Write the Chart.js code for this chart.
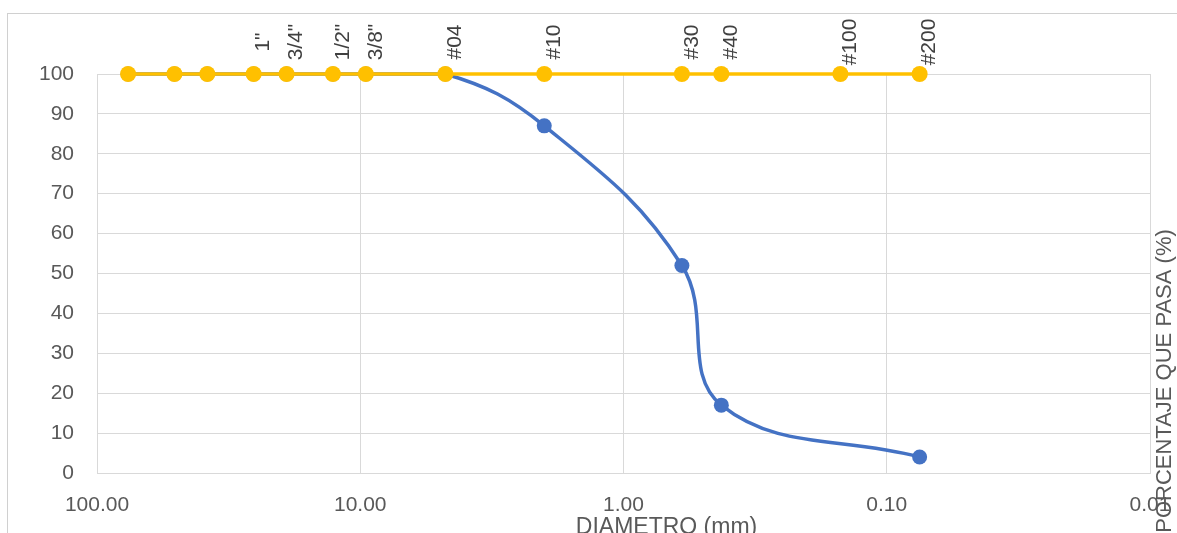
<!DOCTYPE html>
<html>
<head>
<meta charset="utf-8">
<script src="https://cdn.jsdelivr.net/npm/chart.js@4.4.1/dist/chart.umd.min.js"></script>
<style>
  html, body { margin: 0; padding: 0; background: #ffffff; overflow: hidden; }
  #wrap { width: 1177px; height: 533px; }
</style>
</head>
<body>
<div id="wrap"><canvas id="curva" width="1177" height="533"></canvas></div>
<script>
// Serie de tamices (abertura en mm) y su rótulo
const sieveLabels    = ['', '', '', '1"', '3/4"', '1/2"', '3/8"', '#04', '#10', '#30', '#40', '#100', '#200'];
const sieveDiameters = [76.2, 50.8, 38.1, 25.4, 19.05, 12.7, 9.525, 4.75, 2.00, 0.600, 0.425, 0.150, 0.075];
const sieveLevel     = [100, 100, 100, 100, 100, 100, 100, 100, 100, 100, 100, 100, 100];

// Granulometría de la muestra: diámetro (mm) y porcentaje que pasa
const sampleDiameters = [76.2, 50.8, 38.1, 25.4, 19.05, 12.7, 9.525, 4.75, 2.00, 0.600, 0.425, 0.075];
const samplePassing   = [100, 100, 100, 100, 100, 100, 100, 100, 87, 52, 17, 4];

// Marcas de los ejes
const xTickValues = [100, 10, 1, 0.1, 0.01];
const xTickLabels = ['100.00', '10.00', '1.00', '0.10', '0.01'];
const yTickStep = 10;

const xTitle = 'DIAMETRO (mm)';
const yTitle = 'PORCENTAJE QUE PASA (%)';

const FONT = '"Liberation Sans", Arial, sans-serif';
const GRID = '#d9d9d9';
const TEXT = '#595959';

Chart.defaults.font.family = FONT;

const decorations = {
  id: 'decorations',
  beforeDraw(chart) {
    const ctx = chart.ctx;
    ctx.save();
    ctx.fillStyle = '#ffffff';
    ctx.fillRect(0, 0, chart.width, chart.height);
    ctx.strokeStyle = '#d0d0d0';
    ctx.lineWidth = 1;
    ctx.strokeRect(7.5, 13.5, chart.width + 20, chart.height + 20);
    ctx.restore();
  },
  afterDatasetsDraw(chart) {
    const ctx = chart.ctx;
    const meta = chart.getDatasetMeta(0);
    ctx.save();
    ctx.fillStyle = '#404040';
    ctx.font = '21px ' + FONT;
    ctx.textAlign = 'center';
    ctx.textBaseline = 'middle';
    meta.data.forEach((pt, i) => {
      const txt = sieveLabels[i];
      if (!txt) return;
      ctx.save();
      ctx.translate(pt.x + 10, pt.y - 32);
      ctx.rotate(-Math.PI / 2);
      ctx.fillText(txt, 0, 0);
      ctx.restore();
    });
    ctx.restore();
  },
  afterDraw(chart) {
    const ctx = chart.ctx;
    const area = chart.chartArea;
    ctx.save();
    ctx.fillStyle = TEXT;
    // título del eje X
    ctx.font = '23px ' + FONT;
    ctx.textAlign = 'center';
    ctx.textBaseline = 'alphabetic';
    ctx.fillText(xTitle, (area.left + area.right) / 2 + 43, chart.height + 1);
    // título del eje Y, a la derecha
    ctx.font = '22px ' + FONT;
    ctx.translate(area.right + 15, area.bottom - 92);
    ctx.rotate(-Math.PI / 2);
    ctx.textBaseline = 'middle';
    ctx.fillText(yTitle, 0, 0);
    ctx.restore();
  }
};

new Chart(document.getElementById('curva'), {
  type: 'scatter',
  data: {
    datasets: [
      {
        label: 'Tamices',
        data: sieveDiameters.map((d, i) => ({ x: d, y: sieveLevel[i] })),
        showLine: true,
        borderColor: '#FFC000',
        backgroundColor: '#FFC000',
        borderWidth: 3.5,
        pointRadius: 8,
        pointHoverRadius: 8,
        pointBorderWidth: 0,
        tension: 0,
        order: 0,
        clip: false
      },
      {
        label: 'Muestra',
        data: sampleDiameters.map((d, i) => ({ x: d, y: samplePassing[i] })),
        showLine: true,
        borderColor: '#4472C4',
        backgroundColor: '#4472C4',
        borderWidth: 3.5,
        pointRadius: 7.5,
        pointHoverRadius: 7.5,
        pointBorderWidth: 0,
        tension: 0.4,
        order: 1,
        clip: false
      }
    ]
  },
  options: {
    responsive: false,
    devicePixelRatio: 1,
    animation: false,
    events: [],
    layout: { padding: { top: 74, right: 27, left: 0, bottom: 0 } },
    plugins: {
      legend: { display: false },
      tooltip: { enabled: false },
      title: { display: false }
    },
    scales: {
      x: {
        type: 'logarithmic',
        reverse: true,
        min: 0.01,
        max: 100,
        afterBuildTicks: (scale) => {
          scale.ticks = xTickValues.map(v => ({ value: v, major: true }));
        },
        afterFit: (scale) => {
          scale.height = 60;
          scale.paddingLeft = 0;
          scale.paddingRight = 0;
        },
        ticks: {
          callback: (value) => {
            const i = xTickValues.findIndex(v => Math.abs(v - value) < 1e-9);
            return i >= 0 ? xTickLabels[i] : null;
          },
          autoSkip: false,
          maxRotation: 0,
          minRotation: 0,
          padding: 20,
          color: TEXT,
          font: { size: 21 }
        },
        grid: { color: GRID, lineWidth: 1, drawTicks: false },
        border: { display: true, color: GRID, width: 1 }
      },
      y: {
        min: 0,
        max: 100,
        afterFit: (scale) => {
          scale.width = 97;
          scale.paddingTop = 0;
          scale.paddingBottom = 0;
        },
        ticks: {
          stepSize: yTickStep,
          padding: 23,
          color: TEXT,
          font: { size: 21 }
        },
        grid: { color: GRID, lineWidth: 1, drawTicks: false },
        border: { display: true, color: GRID, width: 1 }
      }
    }
  },
  plugins: [decorations]
});
</script>
</body>
</html>
